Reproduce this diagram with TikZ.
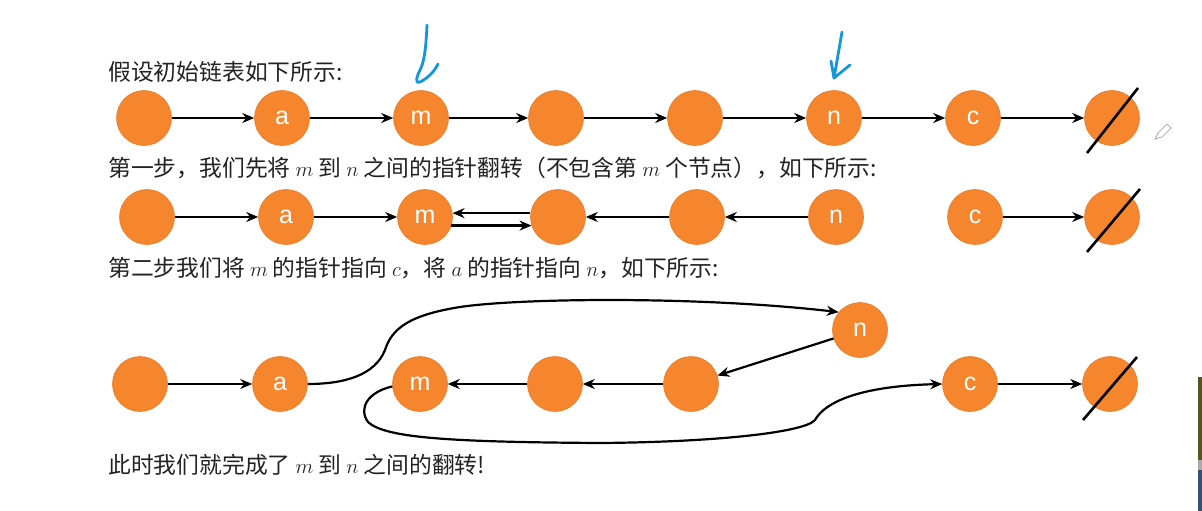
\documentclass[tikz,border=0pt]{standalone}
\usepackage{fontspec}
\setmainfont{Noto Sans CJK SC}
\newfontfamily\lblfont{Liberation Sans}
\usetikzlibrary{arrows.meta}
\definecolor{nodeor}{RGB}{245,134,46}
\definecolor{nodebd}{RGB}{232,122,40}
\definecolor{penblue}{RGB}{20,150,220}
\definecolor{txtc}{RGB}{35,35,35}
\begin{document}
\begin{tikzpicture}[x=1pt,y=-1pt,
  ll/.style={circle,fill=nodeor,draw=nodebd,line width=0.6pt,minimum size=55pt,inner sep=0pt,text=white,font=\lblfont\fontsize{25}{25}\selectfont},
  arr/.style={-{Stealth[length=12pt,width=10pt]},line width=2.2pt,black},
  txt/.style={anchor=west,inner sep=0pt,font=\fontsize{22.8}{22.8}\selectfont,text=txtc},
  slashln/.style={line width=2.6pt,black},
  pen/.style={penblue,line width=2.8pt,line cap=round,line join=round}]
\useasboundingbox[fill=white] (0,0) rectangle (1202,511);

% texts
\node[txt] (t1) at (108,72) {假设初始链表如下所示:};
\node[txt] (t2) at (108,168) {第一步，我们先将 $m$ 到 $n$ 之间的指针翻转（不包含第 $m$ 个节点），如下所示:};
\node[txt] (t3) at (108,268) {第二步我们将 $m$ 的指针指向 $c$，将 $a$ 的指针指向 $n$，如下所示:};
\node[txt] (t4) at (108,465) {此时我们就完成了 $m$ 到 $n$ 之间的翻转!};

% row 1
\node[ll] (r1a) at (144,118) {};
\node[ll] (r1b) at (282,118) {a};
\node[ll] (r1c) at (421,118) {m};
\node[ll] (r1d) at (556,118) {};
\node[ll] (r1e) at (695,118) {};
\node[ll] (r1f) at (834,118) {n};
\node[ll] (r1g) at (973,118) {c};
\node[ll] (r1h) at (1112,118) {};
\draw[arr] (r1a) -- (r1b);
\draw[arr] (r1b) -- (r1c);
\draw[arr] (r1c) -- (r1d);
\draw[arr] (r1d) -- (r1e);
\draw[arr] (r1e) -- (r1f);
\draw[arr] (r1f) -- (r1g);
\draw[arr] (r1g) -- (r1h);
\draw[slashln] (r1h) ++(-25,35) -- ++(51,-65);

% row 2
\node[ll] (r2a) at (147,217) {};
\node[ll] (r2b) at (286,217) {a};
\node[ll] (r2c) at (425,217) {m};
\node[ll] (r2d) at (558,217) {};
\node[ll] (r2e) at (697,217) {};
\node[ll] (r2f) at (836,217) {n};
\node[ll] (r2g) at (975,217) {c};
\node[ll] (r2h) at (1112,217) {};
\draw[arr] (r2a) -- (r2b);
\draw[arr] (r2b) -- (r2c);
\draw[arr] (r2d.172) -- (r2c.8);
\draw[arr] (r2c.-18) -- (r2d.-162);
\draw[arr] (r2e) -- (r2d);
\draw[arr] (r2f) -- (r2e);
\draw[arr] (r2g) -- (r2h);
\draw[slashln] (r2h) ++(-25,35) -- ++(53,-63);

% row 3
\node[ll] (r3a) at (140,384) {};
\node[ll] (r3b) at (280,384) {a};
\node[ll] (r3c) at (420,384) {m};
\node[ll] (r3d) at (555,384) {};
\node[ll] (r3e) at (691,384) {};
\node[ll] (r3f) at (860,330) {n};
\node[ll] (r3g) at (970,384) {c};
\node[ll] (r3h) at (1110,384) {};
\draw[arr] (r3a) -- (r3b);
\draw[arr] (r3d) -- (r3c);
\draw[arr] (r3e) -- (r3d);
\draw[arr] (r3f) -- (r3e);
\draw[arr] (r3g) -- (r3h);
\draw[slashln] (r3h) ++(-27,36) -- ++(54,-63);
\draw[arr] (r3b.east) .. controls (345,384) and (375,375) .. (385,350)
  .. controls (392,328) and (410,315) .. (460,307)
  .. controls (520,298) and (700,296) .. (r3f.140);
\draw[arr] (r3c.185) .. controls (368,392) and (358,408) .. (368,422)
  .. controls (385,438) and (450,442) .. (600,443)
  .. controls (720,442) and (805,432) .. (815,420)
  .. controls (825,402) and (860,386) .. (r3g.west);

% blue pen marks
\draw[pen] (427,25) .. controls (426,45) and (425,58) .. (421,68)
  .. controls (417,76) and (414,84) .. (420,82)
  .. controls (428,78) and (434,72) .. (438,64);
\draw[pen] (842,32) -- (834,78);
\draw[pen] (831,61) -- (834,78) -- (850,65);

% pencil icon
\draw[gray!70,line width=0.7pt] (1155,139) -- (1158,133) -- (1167,124) -- (1171,128) -- (1162,137) -- cycle;

% right edge strip
\fill[fill={rgb,255:red,85;green,85;blue,30}] (1198,377) rectangle (1202,460);
\fill[fill={rgb,255:red,170;green,170;blue,170}] (1198,460) rectangle (1202,470);
\fill[fill={rgb,255:red,50;green,80;blue,120}] (1198,470) rectangle (1202,511);
\end{tikzpicture}
\end{document}
